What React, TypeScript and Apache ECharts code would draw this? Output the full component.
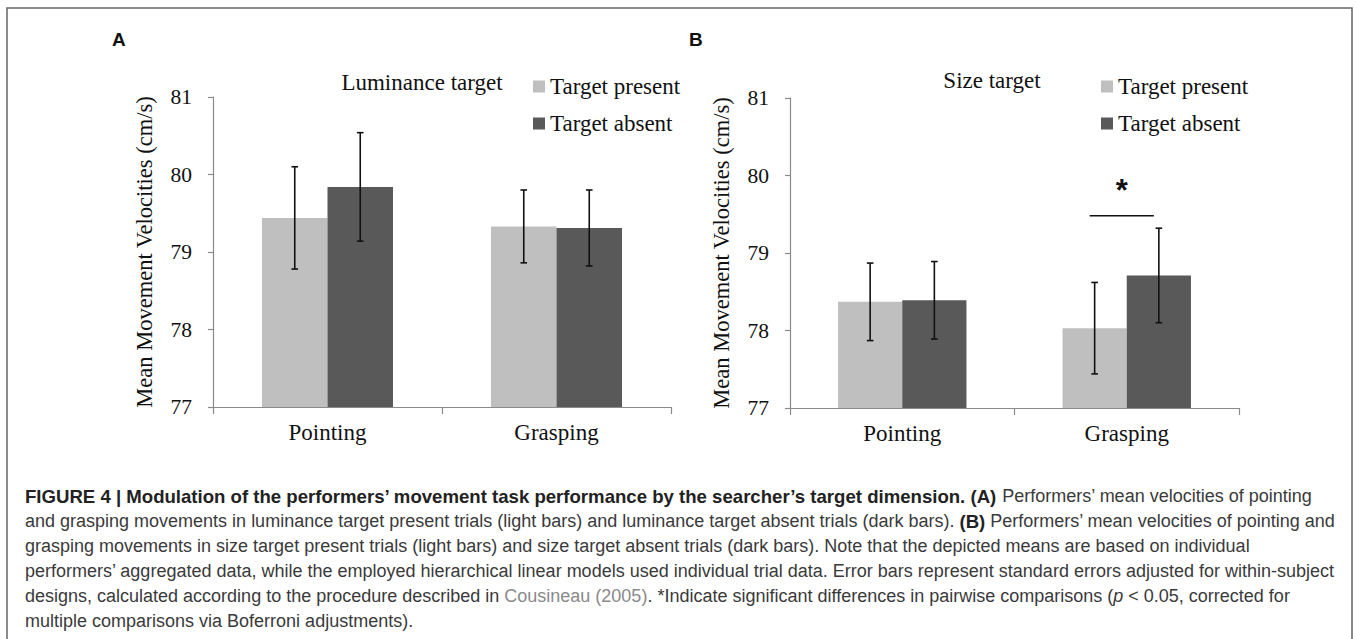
import React, { useEffect, useRef } from "react";
import * as echarts from "echarts";

const categories = ["Pointing", "Grasping"];
const seriesNames = ["Target present", "Target absent"];
// Panel A: luminance target
const lumPresent = [79.44, 79.33];
const lumAbsent = [79.84, 79.31];
const lumPresentErr = [0.66, 0.47];
const lumAbsentErr = [0.7, 0.49];
// Panel B: size target
const sizePresent = [78.37, 78.03];
const sizeAbsent = [78.39, 78.71];
const sizePresentErr = [0.5, 0.59];
const sizeAbsentErr = [0.5, 0.61];
// significance marker (panel B)
const sigCategory = [1];
const sigLevel = [79.48];

const yMin = 77;
const yMax = 81;
const yInterval = 1;

const SERIF = "Liberation Serif";
const SANS = "Liberation Sans";
const LIGHT = "#bfbfbf";
const DARK = "#595959";
const AXIS = "#8a8a8a";
const TXT = "#111";

const BAR_FRAC = 0.286;

function errSeries(gridIdx: number, vals: number[], errs: number[], sign: number) {
  return {
    type: "custom",
    xAxisIndex: gridIdx,
    yAxisIndex: gridIdx,
    z: 5,
    silent: true,
    data: vals.map((v, i) => [i, v, errs[i]]),
    renderItem: (params: any, api: any) => {
      const idx = api.value(0);
      const v = api.value(1);
      const e = api.value(2);
      const band = api.size([1, 0])[0];
      const x = api.coord([idx, v])[0] + sign * band * BAR_FRAC / 2;
      const top = api.coord([idx, v + e])[1];
      const bot = api.coord([idx, v - e])[1];
      const cap = 3.3;
      const st = { stroke: "#111", lineWidth: 1.6 };
      return {
        type: "group",
        children: [
          { type: "line", shape: { x1: x, y1: top, x2: x, y2: bot }, style: st },
          { type: "line", shape: { x1: x - cap, y1: top, x2: x + cap, y2: top }, style: st },
          { type: "line", shape: { x1: x - cap, y1: bot, x2: x + cap, y2: bot }, style: st },
        ],
      };
    },
  };
}

function barSeries(gridIdx: number, name: string, vals: number[], color: string) {
  return {
    type: "bar",
    name,
    xAxisIndex: gridIdx,
    yAxisIndex: gridIdx,
    data: vals,
    barWidth: BAR_FRAC * 100 + "%",
    barGap: "0%",
    itemStyle: { color },
    silent: true,
  };
}

function xAxis(gridIdx: number) {
  return {
    type: "category",
    gridIndex: gridIdx,
    data: categories,
    axisLine: { lineStyle: { color: AXIS, width: 1.2 } },
    axisTick: { show: true, length: 7, lineStyle: { color: AXIS, width: 1.2 } },
    axisLabel: { fontFamily: SERIF, fontSize: 23, color: TXT, margin: 14 },
  };
}

function yAxis(gridIdx: number) {
  return {
    type: "value",
    gridIndex: gridIdx,
    min: yMin,
    max: yMax,
    interval: yInterval,
    name: "Mean Movement Velocities (cm/s)",
    nameLocation: "middle",
    nameGap: 57,
    nameTextStyle: { fontFamily: SERIF, fontSize: 22.5, color: TXT },
    splitLine: { show: false },
    axisLine: { show: true, lineStyle: { color: AXIS, width: 1.2 } },
    axisTick: { show: true, length: 5, lineStyle: { color: AXIS, width: 1.2 } },
    axisLabel: { fontFamily: SERIF, fontSize: 21.5, color: TXT, margin: 21 },
  };
}

function legend(left: number) {
  return {
    orient: "vertical",
    left,
    top: 70,
    itemWidth: 12,
    itemHeight: 12,
    itemGap: 14,
    icon: "rect",
    data: seriesNames,
    selectedMode: false,
    textStyle: { fontFamily: SERIF, fontSize: 23, color: TXT },
  };
}

const captionLines = [
  "{b|FIGURE 4 | Modulation of the performers\u2019 movement task performance by the searcher\u2019s target dimension. (A)}{n| Performers\u2019 mean velocities of pointing}",
  "{n|and grasping movements in luminance target present trials (light bars) and luminance target absent trials (dark bars). }{b|(B)}{n| Performers\u2019 mean velocities of pointing and}",
  "{n|grasping movements in size target present trials (light bars) and size target absent trials (dark bars). Note that the depicted means are based on individual}",
  "{n|performers\u2019 aggregated data, while the employed hierarchical linear models used individual trial data. Error bars represent standard errors adjusted for within-subject}",
  "{n|designs, calculated according to the procedure described in }{g|Cousineau (2005)}{n|. *Indicate significant differences in pairwise comparisons (}{i|p}{n| < 0.05, corrected for}",
  "{n|multiple comparisons via Boferroni adjustments).}",
];

export default function App() {
  const ref = useRef<HTMLDivElement>(null);
  useEffect(() => {
    document.body.style.margin = "0";
    const chart = echarts.init(ref.current!, null, { renderer: "svg" });
    const capFont = 18;
    const rich = {
      b: { fontFamily: SANS, fontSize: 18.6, fontWeight: "bold", fill: "#222" },
      n: { fontFamily: SANS, fontSize: capFont, fill: "#3a3a3a" },
      g: { fontFamily: SANS, fontSize: capFont, fill: "#8a8a8a" },
      i: { fontFamily: SANS, fontSize: capFont, fontStyle: "italic", fill: "#3a3a3a" },
    };
    const option: any = {
      animation: false,
      backgroundColor: "#fff",
      color: [LIGHT, DARK],
      grid: [
        { left: 213, top: 97, width: 458, height: 310, containLabel: false },
        { left: 790, top: 98, width: 449, height: 310, containLabel: false },
      ],
      xAxis: [xAxis(0), xAxis(1)],
      yAxis: [yAxis(0), yAxis(1)],
      legend: [legend(528), legend(1096)],
      series: [
        barSeries(0, seriesNames[0], lumPresent, LIGHT),
        barSeries(0, seriesNames[1], lumAbsent, DARK),
        errSeries(0, lumPresent, lumPresentErr, -1),
        errSeries(0, lumAbsent, lumAbsentErr, 1),
        barSeries(1, seriesNames[0], sizePresent, LIGHT),
        barSeries(1, seriesNames[1], sizeAbsent, DARK),
        errSeries(1, sizePresent, sizePresentErr, -1),
        errSeries(1, sizeAbsent, sizeAbsentErr, 1),
        {
          type: "custom",
          xAxisIndex: 1,
          yAxisIndex: 1,
          z: 6,
          silent: true,
          data: sigCategory.map((c, i) => [c, sigLevel[i]]),
          renderItem: (params: any, api: any) => {
            const idx = api.value(0);
            const v = api.value(1);
            const band = api.size([1, 0])[0];
            const p = api.coord([idx, v]);
            const half = band * BAR_FRAC / 2;
            const cx = p[0] - 5;
            return {
              type: "group",
              children: [
                {
                  type: "line",
                  shape: { x1: cx - half, y1: p[1], x2: cx + half, y2: p[1] },
                  style: { stroke: "#111", lineWidth: 1.6 },
                },
                {
                  type: "text",
                  x: cx,
                  y: p[1] - 25,
                  style: {
                    text: "*",
                    fontFamily: SANS,
                    fontWeight: "bold",
                    fontSize: 31,
                    fill: "#111",
                    textAlign: "center",
                    textVerticalAlign: "middle",
                  },
                },
              ],
            };
          },
        },
      ],
      graphic: [
        {
          type: "rect",
          shape: { x: 7, y: 8, width: 1345, height: 640 },
          style: { fill: "none", stroke: "#666", lineWidth: 1.5 },
          silent: true,
        },
        {
          type: "text",
          x: 112,
          y: 39,
          style: { text: "A", fontFamily: SANS, fontWeight: "bold", fontSize: 19, fill: "#111", textVerticalAlign: "middle" },
        },
        {
          type: "text",
          x: 689,
          y: 39,
          style: { text: "B", fontFamily: SANS, fontWeight: "bold", fontSize: 19, fill: "#111", textVerticalAlign: "middle" },
        },
        {
          type: "text",
          x: 422,
          y: 82,
          style: { text: "Luminance target", fontFamily: SERIF, fontSize: 23, fill: TXT, textAlign: "center", textVerticalAlign: "middle" },
        },
        {
          type: "text",
          x: 992,
          y: 80,
          style: { text: "Size target", fontFamily: SERIF, fontSize: 23, fill: TXT, textAlign: "center", textVerticalAlign: "middle" },
        },
        ...captionLines.map((t, i) => ({
          type: "text",
          x: 25,
          y: 496 + i * 25,
          style: { text: t, rich, textVerticalAlign: "middle", fontFamily: SANS, fontSize: capFont },
        })),
      ],
    };
    chart.setOption(option);
    return () => chart.dispose();
  }, []);
  return <div ref={ref} style={{ width: 1357, height: 639 }} />;
}
